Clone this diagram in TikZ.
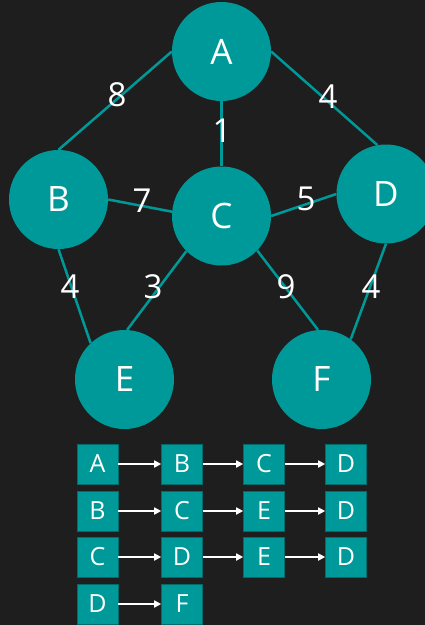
\documentclass[tikz,border=0pt]{standalone}
\usepackage{fontspec}
\setmainfont{Open Sans}
\usetikzlibrary{arrows.meta}
\definecolor{bg}{HTML}{1E1E1E}
\definecolor{teal}{HTML}{009999}
\tikzset{
  vert/.style={circle, fill=teal, minimum size=99pt, inner sep=0pt, text=white, font=\fontsize{35}{35}\selectfont},
  wlabel/.style={text=white, inner sep=0pt, font=\fontsize{33}{33}\selectfont},
  edge/.style={draw=teal, line width=2.5pt},
  lbox/.style={rectangle, fill=teal, draw=teal!70!black, line width=0.6pt, minimum width=41pt, minimum height=40pt, inner sep=0pt, text=white, font=\fontsize{25}{25}\selectfont},
  larr/.style={draw=white, line width=1.6pt, -{Triangle[length=7pt,width=7pt]}}
}
\begin{document}
\begin{tikzpicture}[x=1pt,y=-1pt]
\fill[bg] (0,0) rectangle (425,625);
\useasboundingbox (0,0) rectangle (425,625);
\clip (0,0) rectangle (425,625);
% vertices
\node[vert] (A) at (221.5,51.5) {A};
\node[vert] (B) at (58.5,199.5) {B};
\node[vert] (C) at (221.5,216) {C};
\node[vert] (D) at (386,194) {D};
\node[vert] (E) at (124.5,379.5) {E};
\node[vert] (F) at (321.5,379.5) {F};
% edges
\draw[edge] (A.180) -- (B.90);
\draw[edge] (A.0) -- (D.100);
\draw[edge] (A.270) -- (C.90);
\draw[edge] (B.0) -- (C.175);
\draw[edge] (C.0) -- (D.180);
\draw[edge] (B.270) -- (E.133);
\draw[edge] (C.225) -- (E.87);
\draw[edge] (C.316) -- (F.94);
\draw[edge] (D.270) -- (F.54);
% weights
\node[wlabel] (wAB) at (117,95) {8};
\node[wlabel] (wAD) at (328,97) {4};
\node[wlabel] (wAC) at (222,131) {1};
\node[wlabel] (wBC) at (142,201) {7};
\node[wlabel] (wCD) at (306,199) {5};
\node[wlabel] (wBE) at (70,287) {4};
\node[wlabel] (wCE) at (153,287) {3};
\node[wlabel] (wCF) at (286,287) {9};
\node[wlabel] (wDF) at (371,287) {4};
% adjacency list
\node[lbox] (r1a) at (97.5,464) {A};
\node[lbox] (r1b) at (182,464) {B};
\node[lbox] (r1c) at (264,464) {C};
\node[lbox] (r1d) at (346,464) {D};
\node[lbox] (r2a) at (97.5,511) {B};
\node[lbox] (r2b) at (182,511) {C};
\node[lbox] (r2c) at (264,511) {E};
\node[lbox] (r2d) at (346,511) {D};
\node[lbox] (r3a) at (97.5,557) {C};
\node[lbox] (r3b) at (182,557) {D};
\node[lbox] (r3c) at (264,557) {E};
\node[lbox] (r3d) at (346,557) {D};
\node[lbox] (r4a) at (97.5,604) {D};
\node[lbox] (r4b) at (182,604) {F};
\draw[larr] (r1a) -- (r1b);
\draw[larr] (r1b) -- (r1c);
\draw[larr] (r1c) -- (r1d);
\draw[larr] (r2a) -- (r2b);
\draw[larr] (r2b) -- (r2c);
\draw[larr] (r2c) -- (r2d);
\draw[larr] (r3a) -- (r3b);
\draw[larr] (r3b) -- (r3c);
\draw[larr] (r3c) -- (r3d);
\draw[larr] (r4a) -- (r4b);
\end{tikzpicture}
\end{document}
